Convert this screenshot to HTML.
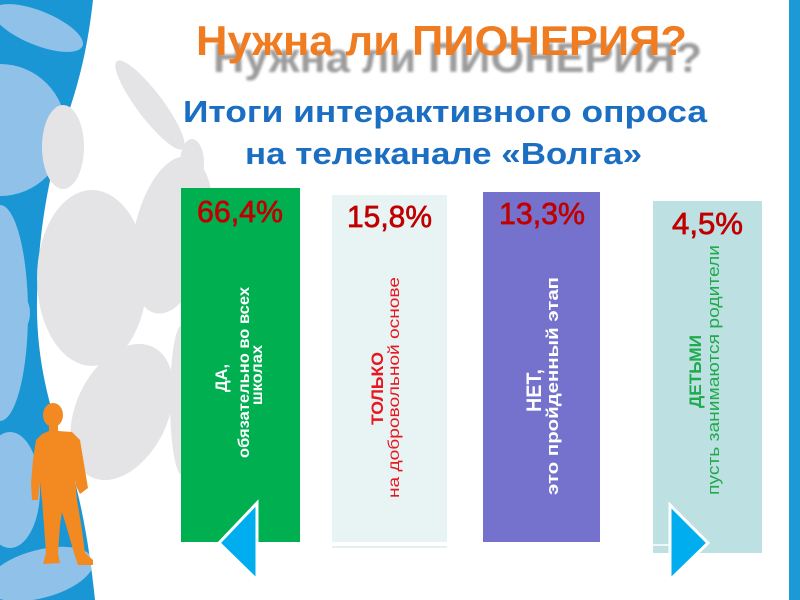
<!DOCTYPE html>
<html>
<head>
<meta charset="utf-8">
<style>
  html, body { margin: 0; padding: 0; background: #ffffff; width: 800px; height: 600px; overflow: hidden; }
  svg { display: block; overflow: hidden; }
  text { font-family: "Liberation Sans", "DejaVu Sans", sans-serif; }
</style>
</head>
<body>
<svg width="800" height="600" viewBox="0 0 800 600" xmlns="http://www.w3.org/2000/svg">
  <defs>
    <clipPath id="blueclip">
      <path d="M0,0 H93 C88,45 80,80 66,120 C50,170 38,230 37,300 C36,360 50,410 65,450 C80,490 90,550 95,600 H0 Z"/>
    </clipPath>
    <filter id="blur" x="-5%" y="-30%" width="110%" height="160%">
      <feGaussianBlur stdDeviation="1.4"/>
    </filter>
  </defs>

  <rect x="0" y="0" width="800" height="600" fill="#ffffff"/>

  <!-- Blue decorative region on the left -->
  <g clip-path="url(#blueclip)">
    <rect x="0" y="0" width="120" height="600" fill="#1a96d5"/>
    <ellipse cx="38" cy="28" rx="48" ry="17" transform="rotate(22 38 28)" fill="#8fc1e9"/>
    <circle cx="0" cy="130" r="66" fill="#8fc1e9"/>
    <circle cx="0" cy="313" r="30" fill="#8fc1e9"/>
    <ellipse cx="0" cy="313" rx="28" ry="108" fill="#8fc1e9"/>
    <ellipse cx="10" cy="490" rx="30" ry="58" fill="#8fc1e9"/>
    <ellipse cx="40" cy="574" rx="55" ry="24" transform="rotate(-15 40 574)" fill="#8fc1e9"/>
  </g>

  <!-- Gray ellipses -->
  <g fill="#e4e4e6">
    <ellipse cx="150" cy="105" rx="55" ry="13" transform="rotate(53 150 105)"/>
    <ellipse cx="192" cy="163" rx="12" ry="24"/>
    <ellipse cx="63" cy="147" rx="21" ry="42"/>
    <ellipse cx="172" cy="235" rx="38" ry="80" transform="rotate(12 172 235)"/>
    <ellipse cx="92" cy="278" rx="55" ry="88"/>
    <ellipse cx="122" cy="412" rx="46" ry="72" transform="rotate(25 122 412)"/>
    <ellipse cx="182" cy="400" rx="12" ry="75"/>
  </g>

  <!-- Orange person -->
  <g fill="#f28a21">
    <ellipse cx="53" cy="415" rx="10" ry="12"/>
    <path d="M49,425 L58,425 L58,431 L72,432 L80,440 L85,470 L88,488 L80,494 L76,486 L75,478 L77,500 L82,530 L85,553 L93,560 L93,565 L78,565 L74,553 L66,525 L62,512 L60,525 L58,553 L60,563 L43,564 L46,553 L44,525 L42,500 L40,482 L38,500 L32,500 L31,483 L33,460 L36,440 L42,434 L49,431 Z"/>
  </g>

  <!-- Right blue strip -->
  <rect x="789" y="0" width="11" height="600" fill="#1b9ad6"/>

  <!-- Title shadow -->
  <text x="213" y="72" font-size="42" font-weight="bold" fill="#8a8a8a" opacity="0.85" filter="url(#blur)" textLength="489" lengthAdjust="spacingAndGlyphs">Нужна ли ПИОНЕРИЯ?</text>
  <!-- Title -->
  <text x="196" y="55" font-size="42" font-weight="bold" fill="#f07c22" textLength="491" lengthAdjust="spacingAndGlyphs">Нужна ли ПИОНЕРИЯ?</text>

  <!-- Subtitle -->
  <text x="183" y="122" font-size="31" font-weight="bold" fill="#1b6ec2" textLength="524" lengthAdjust="spacingAndGlyphs">Итоги интерактивного опроса</text>
  <text x="245" y="164" font-size="31" font-weight="bold" fill="#1b6ec2" textLength="397" lengthAdjust="spacingAndGlyphs">на телеканале «Волга»</text>

  <!-- Bars -->
  <rect x="181" y="188" width="119" height="354" fill="#00b050"/>
  <rect x="332" y="195" width="115" height="347" fill="#e8f4f4"/>
  <rect x="332" y="546" width="115" height="2" fill="#e4f0f2"/>
  <rect x="483" y="192" width="117" height="350" fill="#7472cc"/>
  <rect x="653" y="201" width="109" height="352" fill="#bde0e2"/>
  <rect x="653" y="544" width="18" height="2" fill="#eef7f8"/>

  <!-- Percentages -->
  <g font-size="31" fill="#c00000" stroke="#c00000" stroke-width="0.7">
    <text x="197" y="222" textLength="86" lengthAdjust="spacingAndGlyphs">66,4%</text>
    <text x="347" y="227" textLength="85" lengthAdjust="spacingAndGlyphs">15,8%</text>
    <text x="499" y="224" textLength="86" lengthAdjust="spacingAndGlyphs">13,3%</text>
    <text x="672" y="234" textLength="71" lengthAdjust="spacingAndGlyphs">4,5%</text>
  </g>

  <!-- Bar 1 rotated text -->
  <g fill="#ffffff" font-weight="bold" font-size="16">
    <text transform="translate(227,392) rotate(-90)" x="0" y="0" font-size="17" textLength="28" lengthAdjust="spacingAndGlyphs">ДА,</text>
    <text transform="translate(249,458) rotate(-90)" x="0" y="0" textLength="171" lengthAdjust="spacingAndGlyphs">обязательно во всех</text>
    <text transform="translate(262,405) rotate(-90)" x="0" y="0" textLength="60" lengthAdjust="spacingAndGlyphs">школах</text>
  </g>

  <!-- Bar 2 rotated text -->
  <g fill="#e8161e">
    <text transform="translate(383,425) rotate(-90)" font-size="17" font-weight="bold" textLength="73" lengthAdjust="spacingAndGlyphs">ТОЛЬКО</text>
    <text transform="translate(399,498) rotate(-90)" font-size="16" textLength="221" lengthAdjust="spacingAndGlyphs">на добровольной основе</text>
  </g>

  <!-- Bar 3 rotated text -->
  <g fill="#ffffff" font-weight="bold">
    <text transform="translate(541,412) rotate(-90)" font-size="21" textLength="43" lengthAdjust="spacingAndGlyphs">НЕТ,</text>
    <text transform="translate(558,495) rotate(-90)" font-size="17" textLength="218" lengthAdjust="spacingAndGlyphs">это пройденный  этап</text>
  </g>

  <!-- Bar 4 rotated text -->
  <g fill="#1faa4c">
    <text transform="translate(701,408) rotate(-90)" font-size="17" font-weight="bold" textLength="73" lengthAdjust="spacingAndGlyphs">ДЕТЬМИ</text>
    <text transform="translate(719,495) rotate(-90)" font-size="17" textLength="250" lengthAdjust="spacingAndGlyphs">пусть занимаются родители</text>
  </g>

  <!-- Arrows -->
  <polygon points="257,503 257,580 219,543" fill="#00aeef" stroke="#ffffff" stroke-width="3" stroke-linejoin="miter"/>
  <polygon points="670,505 670,580 708,543" fill="#00aeef" stroke="#ffffff" stroke-width="3" stroke-linejoin="miter"/>
</svg>
</body>
</html>
